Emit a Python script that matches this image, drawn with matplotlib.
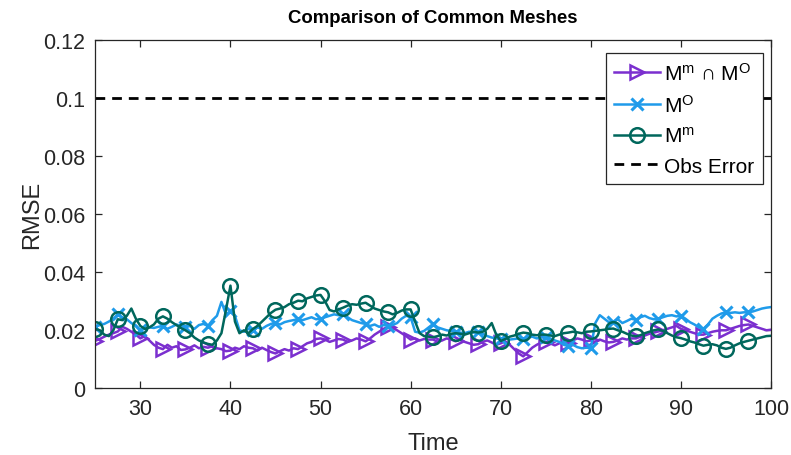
import numpy as np
import matplotlib
matplotlib.use("Agg")
import matplotlib.pyplot as plt

plt.rcParams['font.family'] = ['Liberation Sans', 'DejaVu Sans']
plt.rcParams['mathtext.default'] = 'regular'

# Time axis: 25 .. 100 in steps of 0.5
time = np.arange(25, 100.001, 0.5)

# RMSE of the intersection mesh M^m ∩ M^O
rmse_common = [
    0.0164, 0.0170, 0.0178, 0.0185, 0.0190,
    0.0196, 0.0212, 0.0205, 0.0195, 0.0185,
    0.0172, 0.0180, 0.0165, 0.0150, 0.0140,
    0.0135, 0.0150, 0.0140, 0.0145, 0.0132,
    0.0134, 0.0140, 0.0148, 0.0138, 0.0143,
    0.0140, 0.0145, 0.0138, 0.0135, 0.0128,
    0.0130, 0.0140, 0.0135, 0.0145, 0.0140,
    0.0138, 0.0130, 0.0140, 0.0132, 0.0125,
    0.0120, 0.0128, 0.0135, 0.0130, 0.0138,
    0.0135, 0.0145, 0.0155, 0.0160, 0.0170,
    0.0172, 0.0168, 0.0160, 0.0165, 0.0170,
    0.0168, 0.0160, 0.0165, 0.0172, 0.0168,
    0.0162, 0.0172, 0.0185, 0.0195, 0.0205,
    0.0212, 0.0208, 0.0200, 0.0190, 0.0180,
    0.0168, 0.0172, 0.0165, 0.0170, 0.0168,
    0.0168, 0.0160, 0.0165, 0.0172, 0.0168,
    0.0162, 0.0170, 0.0160, 0.0155, 0.0150,
    0.0152, 0.0160, 0.0165, 0.0158, 0.0150,
    0.0155, 0.0162, 0.0150, 0.0135, 0.0120,
    0.0110, 0.0125, 0.0140, 0.0150, 0.0158,
    0.0160, 0.0155, 0.0148, 0.0155, 0.0158,
    0.0155, 0.0165, 0.0172, 0.0168, 0.0162,
    0.0165, 0.0160, 0.0168, 0.0162, 0.0158,
    0.0160, 0.0165, 0.0172, 0.0168, 0.0172,
    0.0172, 0.0178, 0.0182, 0.0188, 0.0192,
    0.0196, 0.0200, 0.0205, 0.0210, 0.0215,
    0.0205, 0.0200, 0.0195, 0.0190, 0.0185,
    0.0185, 0.0190, 0.0195, 0.0198, 0.0200,
    0.0200, 0.0205, 0.0210, 0.0215, 0.0218,
    0.0220, 0.0215, 0.0210, 0.0205, 0.0200,
    0.0202,
]

# RMSE of the observation mesh M^O
rmse_obs_mesh = [
    0.0212, 0.0218, 0.0222, 0.0230, 0.0240,
    0.0255, 0.0245, 0.0238, 0.0225, 0.0215,
    0.0200, 0.0205, 0.0210, 0.0208, 0.0212,
    0.0215, 0.0205, 0.0212, 0.0220, 0.0215,
    0.0210, 0.0215, 0.0205, 0.0218, 0.0222,
    0.0215, 0.0235, 0.0250, 0.0298, 0.0255,
    0.0266, 0.0250, 0.0200, 0.0195, 0.0205,
    0.0200, 0.0210, 0.0205, 0.0215, 0.0222,
    0.0226, 0.0220, 0.0228, 0.0232, 0.0235,
    0.0239, 0.0235, 0.0240, 0.0245, 0.0238,
    0.0240, 0.0245, 0.0250, 0.0255, 0.0252,
    0.0256, 0.0245, 0.0235, 0.0230, 0.0225,
    0.0222, 0.0215, 0.0220, 0.0212, 0.0218,
    0.0215, 0.0218, 0.0225, 0.0240, 0.0250,
    0.0245, 0.0195, 0.0192, 0.0198, 0.0210,
    0.0222, 0.0210, 0.0205, 0.0200, 0.0198,
    0.0195, 0.0192, 0.0190, 0.0195, 0.0192,
    0.0193, 0.0188, 0.0180, 0.0175, 0.0172,
    0.0170, 0.0172, 0.0168, 0.0170, 0.0172,
    0.0170, 0.0175, 0.0178, 0.0172, 0.0175,
    0.0177, 0.0172, 0.0165, 0.0160, 0.0150,
    0.0145, 0.0150, 0.0142, 0.0138, 0.0140,
    0.0138, 0.0225, 0.0252, 0.0240, 0.0228,
    0.0230, 0.0238, 0.0225, 0.0232, 0.0240,
    0.0236, 0.0245, 0.0250, 0.0242, 0.0238,
    0.0239, 0.0245, 0.0250, 0.0252, 0.0248,
    0.0250, 0.0240, 0.0228, 0.0220, 0.0210,
    0.0205, 0.0220, 0.0240, 0.0250, 0.0258,
    0.0262, 0.0260, 0.0262, 0.0260, 0.0262,
    0.0262, 0.0265, 0.0270, 0.0275, 0.0278,
    0.0280,
]

# RMSE of the model mesh M^m
rmse_model_mesh = [
    0.0205, 0.0200, 0.0185, 0.0180, 0.0200,
    0.0238, 0.0235, 0.0250, 0.0275, 0.0240,
    0.0215, 0.0205, 0.0210, 0.0220, 0.0240,
    0.0248, 0.0240, 0.0228, 0.0218, 0.0208,
    0.0200, 0.0190, 0.0175, 0.0165, 0.0158,
    0.0153, 0.0150, 0.0165, 0.0190, 0.0270,
    0.0354, 0.0230, 0.0190, 0.0200, 0.0190,
    0.0205, 0.0215, 0.0230, 0.0245, 0.0260,
    0.0271, 0.0275, 0.0280, 0.0290, 0.0295,
    0.0302, 0.0300, 0.0310, 0.0315, 0.0320,
    0.0322, 0.0300, 0.0270, 0.0265, 0.0272,
    0.0278, 0.0285, 0.0290, 0.0288, 0.0292,
    0.0295, 0.0285, 0.0275, 0.0270, 0.0265,
    0.0262, 0.0255, 0.0260, 0.0268, 0.0272,
    0.0272, 0.0230, 0.0190, 0.0180, 0.0178,
    0.0176, 0.0180, 0.0185, 0.0182, 0.0188,
    0.0190, 0.0188, 0.0185, 0.0190, 0.0195,
    0.0192, 0.0195, 0.0205, 0.0225, 0.0185,
    0.0163, 0.0170, 0.0178, 0.0182, 0.0188,
    0.0192, 0.0190, 0.0185, 0.0183, 0.0185,
    0.0185, 0.0182, 0.0180, 0.0185, 0.0190,
    0.0192, 0.0195, 0.0193, 0.0190, 0.0195,
    0.0196, 0.0198, 0.0200, 0.0202, 0.0205,
    0.0206, 0.0200, 0.0195, 0.0188, 0.0182,
    0.0179, 0.0183, 0.0190, 0.0195, 0.0200,
    0.0203, 0.0198, 0.0190, 0.0182, 0.0176,
    0.0173, 0.0168, 0.0162, 0.0158, 0.0152,
    0.0147, 0.0150, 0.0152, 0.0148, 0.0140,
    0.0136, 0.0140, 0.0148, 0.0155, 0.0160,
    0.0164, 0.0168, 0.0172, 0.0176, 0.0180,
    0.0181,
]

obs_error = 0.1

series_labels = ['M$^{m}$ \u2229 M$^{O}$', 'M$^{O}$', 'M$^{m}$', 'Obs Error']
x_ticks = [30, 40, 50, 60, 70, 80, 90, 100]
y_ticks = [0, 0.02, 0.04, 0.06, 0.08, 0.1, 0.12]
y_tick_labels = ['0', '0.02', '0.04', '0.06', '0.08', '0.1', '0.12']

c_common = '#7B2FCF'
c_obs = '#1F9BEA'
c_model = '#00675C'

fig = plt.figure(figsize=(7.91, 4.56), dpi=100)
ax = fig.add_axes([0.1205, 0.1463, 0.8542, 0.7631])

marks = list(range(0, len(time) - 1, 5))

ax.plot(time, rmse_common, color=c_common, lw=1.8, marker='>', ms=10,
        mfc='none', mew=1.8, markevery=marks, label=series_labels[0])
ax.plot(time, rmse_obs_mesh, color=c_obs, lw=1.8, marker='x', ms=8,
        mew=2.2, markevery=marks, label=series_labels[1])
ax.plot(time, rmse_model_mesh, color=c_model, lw=1.8, marker='o', ms=10.5,
        mfc='none', mew=1.8, markevery=marks, label=series_labels[2])
ax.axhline(obs_error, color='black', lw=2, ls=(0, (3.5, 2.5)), label=series_labels[3])

ax.set_xlim(25, 100)
ax.set_ylim(0, 0.12)
ax.set_xticks(x_ticks)
ax.set_yticks(y_ticks)
ax.set_yticklabels(y_tick_labels)

for s in ax.spines.values():
    s.set_color('#262626')
    s.set_linewidth(0.9)
ax.tick_params(direction='in', top=True, right=True, length=5, width=0.9,
               colors='#262626', labelsize=15.5, pad=7)

ax.set_xlabel('Time', fontsize=17, color='#262626', labelpad=9)
ax.set_ylabel('RMSE', fontsize=17, color='#262626', labelpad=0)
ax.set_title('Comparison of Common Meshes', fontsize=13.4, fontweight='bold',
             color='black', pad=13)

leg = ax.legend(loc='upper right', bbox_to_anchor=(0.988, 0.963), fontsize=15,
                frameon=True, fancybox=False, framealpha=1, edgecolor='#262626',
                handlelength=2.2, handletextpad=0.2, borderpad=0.4,
                labelspacing=0.5, borderaxespad=0.0)
leg.get_frame().set_linewidth(0.9)

fig.savefig('out.png', dpi=100)
